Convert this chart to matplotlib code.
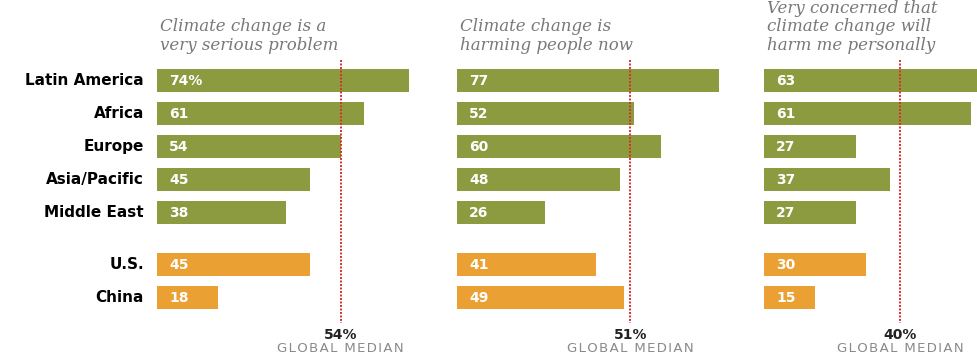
import numpy as np
import matplotlib
matplotlib.use('Agg')
import matplotlib.pyplot as plt

regions = ["Latin America", "Africa", "Europe", "Asia/Pacific", "Middle East", "U.S.", "China"]
titles = [
    "Climate change is a\nvery serious problem",
    "Climate change is\nharming people now",
    "Very concerned that\nclimate change will\nharm me personally",
]
serious = [74, 61, 54, 45, 38, 45, 18]
harming = [77, 52, 60, 48, 26, 41, 49]
personal = [63, 61, 27, 37, 27, 30, 15]
medians = [54, 51, 40]
median_label = "GLOBAL MEDIAN"

green = "#8c9a40"
orange = "#eba033"
red = "#d9302c"
W, H = 977, 359
px_per_unit = 3.4

# row positions (gap between regions and countries)
ypos = np.array([0, 1, 2, 3, 4, 5.58, 6.58])
row_px = 33.0
y0_px = 80.5  # centre of first row, from top

fig = plt.figure(figsize=(W / 100, H / 100), dpi=100)

panels = [(157, 290, serious), (457, 290, harming), (764, 213, personal)]
top_px, bot_px = 0, H


def py(p):
    # pixel row (from top) -> data y
    return (p - y0_px) / row_px


spaced = "\u200a".join(median_label)

for i, (left, width, vals) in enumerate(panels):
    ax = fig.add_axes([left / W, 0, width / W, 1])
    ax.set_xlim(0, width / px_per_unit)
    ax.set_ylim(py(bot_px), py(top_px))
    ax.axis("off")
    cols = [green] * 5 + [orange] * 2
    ax.barh(ypos, vals, height=23 / row_px, color=cols)
    for j, (y, v) in enumerate(zip(ypos, vals)):
        lab = f"{v}%" if (i == 0 and j == 0) else str(v)
        ax.text(12 / px_per_unit, y + 0.02, lab, color="white", fontsize=10,
                fontweight="bold", va="center", ha="left")
    m = medians[i]
    ax.plot([m, m], [py(60), py(323)], color=red, linestyle=(0, (1, 0.8)),
            linewidth=1.4, clip_on=False, zorder=3)
    ax.text(m, py(335), f"{m}%", fontsize=10, fontweight="bold",
            color="#222222", ha="center", va="center", clip_on=False)
    ax.text(m, py(349), spaced, fontsize=9.5, color="#8a8a8a",
            ha="center", va="center", clip_on=False)
    ax.text(3 / px_per_unit, py(54), titles[i], fontsize=12,
            family="DejaVu Serif", style="italic", color="#787878",
            ha="left", va="bottom", linespacing=1.12, clip_on=False)
    if i == 0:
        for y, r in zip(ypos, regions):
            ax.text(-13 / px_per_unit, y, r, fontsize=11, fontweight="bold",
                    color="black", ha="right", va="center", clip_on=False)

fig.savefig("out.png", dpi=100, facecolor="white")
